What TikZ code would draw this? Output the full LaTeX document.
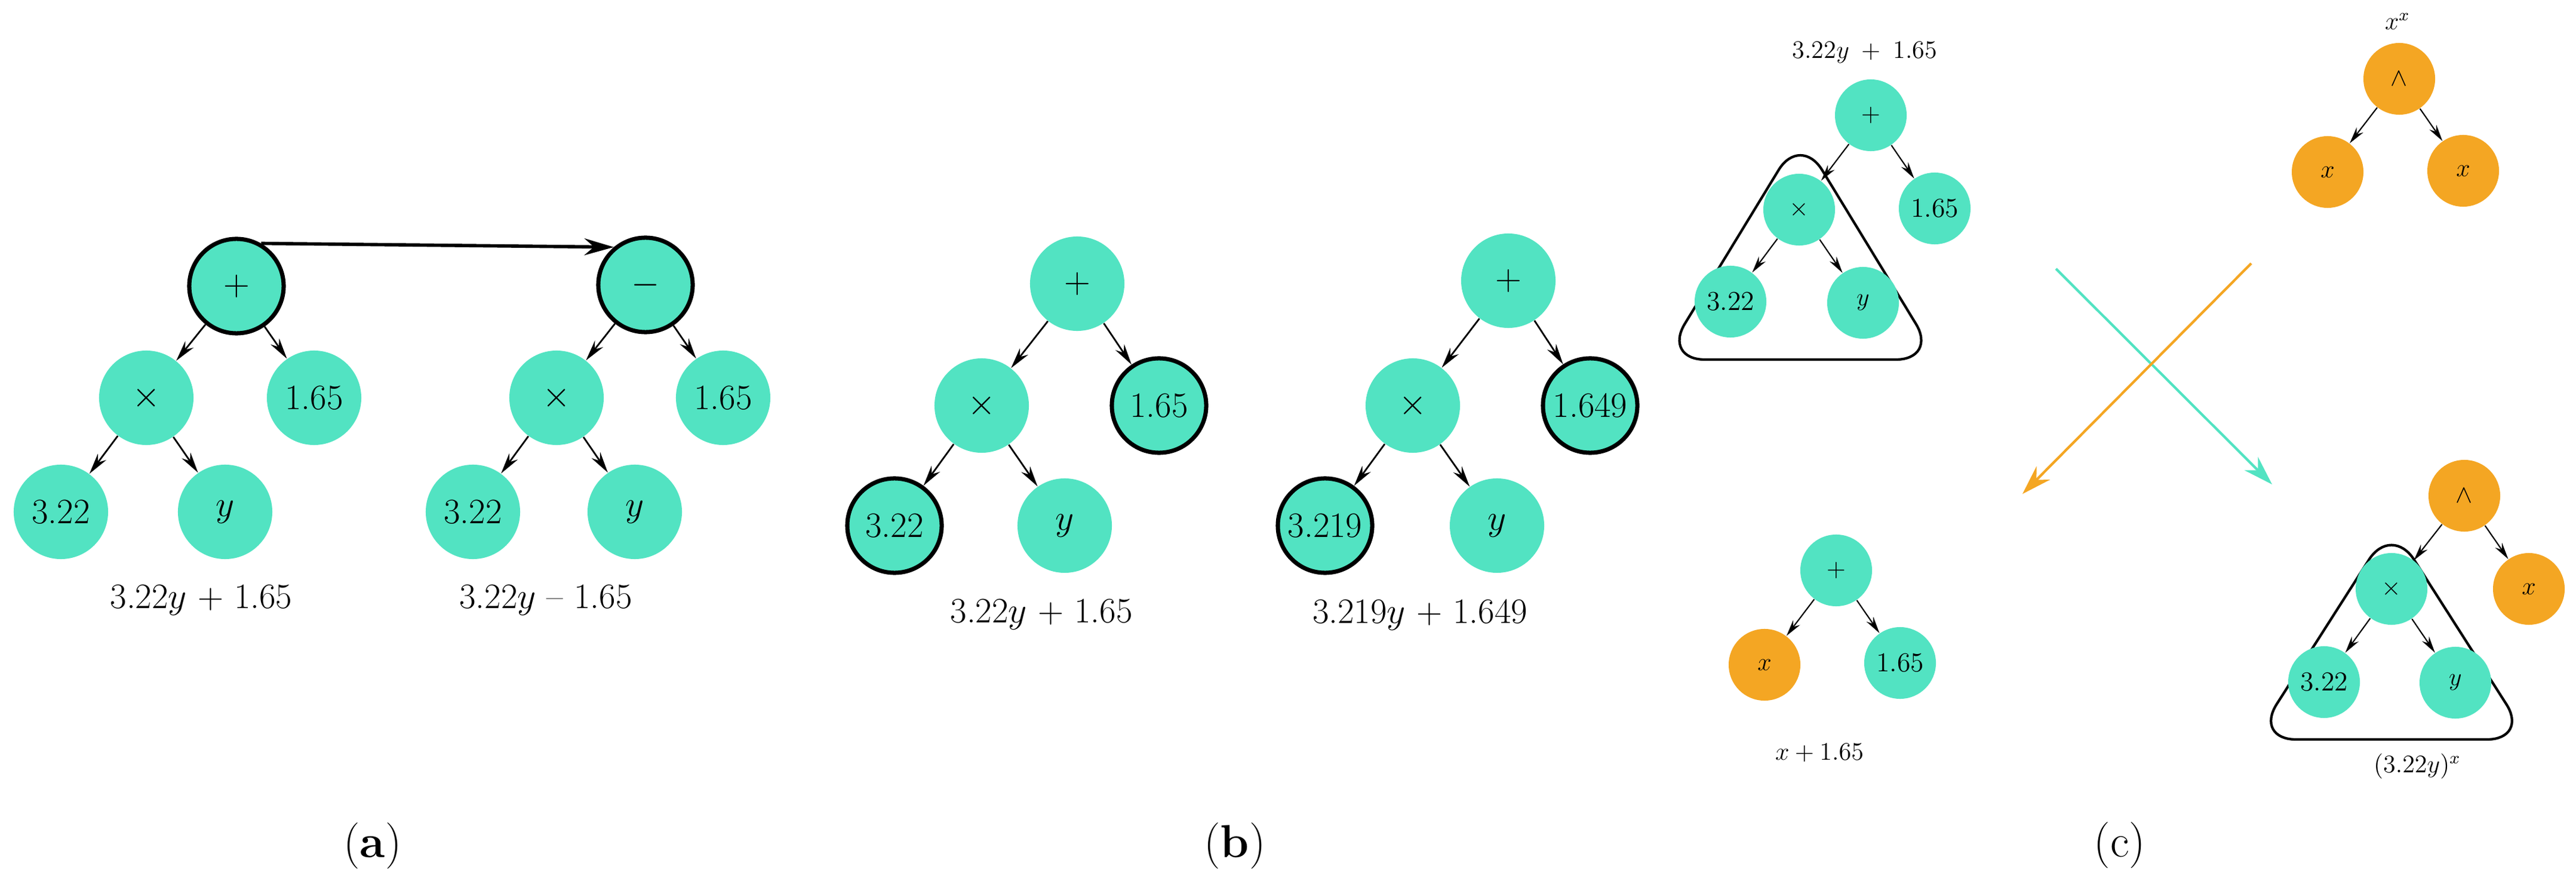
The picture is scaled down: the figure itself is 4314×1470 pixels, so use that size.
\documentclass[tikz,border=0pt]{standalone}
\usetikzlibrary{arrows.meta}
\definecolor{teal1}{HTML}{52E3C2}
\definecolor{orng}{HTML}{F4A623}
\begin{document}
\begin{tikzpicture}[x=0.01cm,y=-0.01cm,
 big/.style={circle,fill=teal1,minimum size=1.58cm,inner sep=0pt,font=\fontsize{17}{20}\selectfont},
 bigb/.style={big,draw=black,line width=2pt},
 sm/.style={circle,fill=teal1,minimum size=1.2cm,inner sep=0pt,font=\fontsize{13}{15}\selectfont},
 smo/.style={sm,fill=orng},
 ed/.style={-{Stealth[length=10pt,width=5pt]},line width=0.8pt},
 eds/.style={-{Stealth[length=8pt,width=4pt]},line width=0.6pt},
 lab/.style={font=\fontsize{17}{20}\selectfont},
 labs/.style={font=\fontsize{12}{14}\selectfont},
 ptitle/.style={font=\fontsize{22}{26}\selectfont},
 tri/.style={draw=black,line width=1.2pt,rounded corners=0.7cm}]
\useasboundingbox (0,0) rectangle (4314,1470);
% (a)
\node[bigb] (ap) at (396,479) {$+$};
\node[big] (am) at (245,666) {$\times$};
\node[big] (a1) at (526,666) {1.65};
\node[big] (a3) at (102,857) {3.22};
\node[big] (ay) at (377,857) {$y$};
\node[bigb] (bp) at (1081,477) {$-$};
\node[big] (bm) at (932,666) {$\times$};
\node[big] (b1) at (1211,666) {1.65};
\node[big] (b3) at (792,857) {3.22};
\node[big] (by) at (1063,857) {$y$};
\foreach \p/\c in {ap/am,ap/a1,am/a3,am/ay,bp/bm,bp/b1,bm/b3,bm/by} \draw[ed] (\p) -- (\c);
\draw[-{Stealth[length=14pt,width=8pt]},line width=1.6pt] (ap.60) -- (bp.130);
\node[lab] (la1) at (337,1005) {3.22$y$ + 1.65};
\node[lab] (la2) at (914,1005) {3.22$y$ -- 1.65};
\node[ptitle] (ca) at (624,1416) {(\textbf{a})};
% (b)
\node[big] (cp) at (1804,475) {$+$};
\node[big] (cm) at (1644,679) {$\times$};
\node[bigb] (c1) at (1941,679) {1.65};
\node[bigb] (c3) at (1498,880) {3.22};
\node[big] (cy) at (1783,880) {$y$};
\node[big] (dp) at (2526,470) {$+$};
\node[big] (dm) at (2366,679) {$\times$};
\node[bigb] (d1) at (2663,679) {1.649};
\node[bigb] (d3) at (2219,880) {3.219};
\node[big] (dy) at (2507,880) {$y$};
\foreach \p/\c in {cp/cm,cp/c1,cm/c3,cm/cy,dp/dm,dp/d1,dm/d3,dm/dy} \draw[ed] (\p) -- (\c);
\node[lab] (lb1) at (1744,1029) {3.22$y$ + 1.65};
\node[lab] (lb2) at (2378,1029) {3.219$y$ + 1.649};
\node[ptitle] (cb) at (2068,1416) {(\textbf{b})};
% (c)
\draw[tri] (3015,225) -- (3245,602) -- (2785,602) -- cycle;
\node[sm] (ep) at (3133,193) {$+$};
\node[sm] (em) at (3013,351) {$\times$};
\node[sm] (e1) at (3240,349) {1.65};
\node[sm] (e3) at (2898,505) {3.22};
\node[sm] (ey) at (3120,507) {$y$};
\foreach \p/\c in {ep/em,ep/e1,em/e3,em/ey} \draw[eds] (\p) -- (\c);
\node[labs] (lc1) at (3123,88) {3.22$y$ \,+\, 1.65};
\node[smo] (fp) at (4018,132) {$\wedge$};
\node[smo] (fx1) at (3898,288) {$x$};
\node[smo] (fx2) at (4125,286) {$x$};
\foreach \p/\c in {fp/fx1,fp/fx2} \draw[eds] (\p) -- (\c);
\node[labs] (lc2) at (4015,36) {$x^x$};
\coordinate (t1) at (3443,450); \coordinate (t2) at (3805,811);
\coordinate (o1) at (3770,441); \coordinate (o2) at (3387,827);
\draw[teal1,line width=1.2pt,-{Stealth[length=14pt,width=9pt]}] (t1) -- (t2);
\draw[orng,line width=1.2pt,-{Stealth[length=14pt,width=9pt]}] (o1) -- (o2);
\node[sm] (gp) at (3075,955) {$+$};
\node[smo] (gx) at (2955,1113) {$x$};
\node[sm] (g1) at (3182,1110) {1.65};
\foreach \p/\c in {gp/gx,gp/g1} \draw[eds] (\p) -- (\c);
\node[labs] (lc3) at (3047,1261) {$x+1.65$};
\draw[tri] (4005,878) -- (4235,1238) -- (3775,1238) -- cycle;
\node[smo] (hp) at (4127,830) {$\wedge$};
\node[sm] (hm) at (4005,986) {$\times$};
\node[smo] (hx) at (4235,986) {$x$};
\node[sm] (h3) at (3892,1142) {3.22};
\node[sm] (hy) at (4112,1143) {$y$};
\foreach \p/\c in {hp/hm,hp/hx,hm/h3,hm/hy} \draw[eds] (\p) -- (\c);
\node[labs] (lc4) at (4048,1283) {$(3.22y)^x$};
\node[ptitle] (cc) at (3550,1415) {(c)};
\end{tikzpicture}
\end{document}
